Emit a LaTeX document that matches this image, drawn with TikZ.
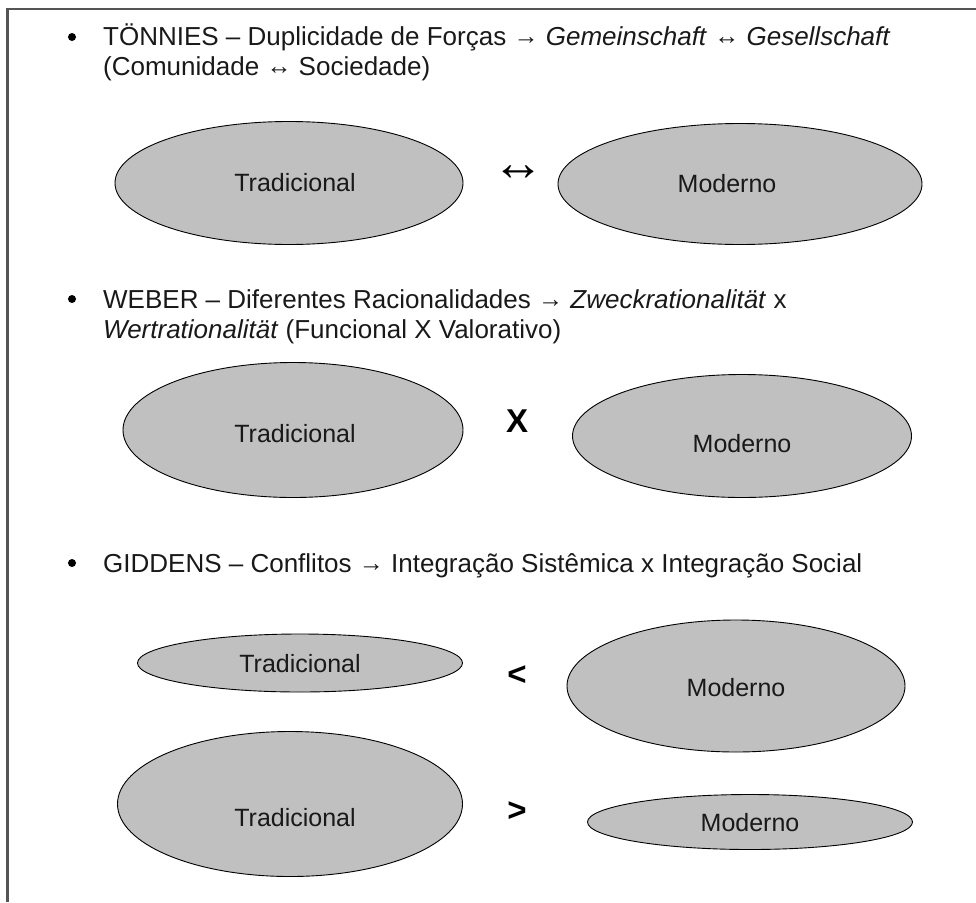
\documentclass[tikz,border=0pt]{standalone}
\usepackage{fontspec}
\setmainfont{Liberation Sans}
\usetikzlibrary{shapes.geometric}
\definecolor{ovalgray}{HTML}{C0C0C0}
\definecolor{framegray}{HTML}{555555}
\newcommand{\smarrow}[1]{{\fontsize{25}{25}\selectfont\raisebox{1pt}{#1}}}
\tikzset{
  oval/.style={ellipse,draw=black,fill=ovalgray,line width=0.9pt,inner sep=0pt},
  lbl/.style={font=\fontsize{25}{25}\selectfont,text=black!90,inner sep=0pt},
  head/.style={font=\fontsize{26}{26}\selectfont,text=black!90,anchor=base west,inner sep=0pt},
  sign/.style={font=\fontsize{33}{33}\selectfont\bfseries,inner sep=0pt},
  dot/.style={circle,fill=black,inner sep=0pt,minimum size=8pt}
}
\begin{document}
\begin{tikzpicture}[x=1pt,y=-1pt]
  \useasboundingbox (0,0) rectangle (976,902);
  % frame
  \draw[framegray,line width=2.2pt] (7.5,902) -- (7.5,9) -- (976,9);

  % Tonnies
  \node[dot] (b1) at (72,37) {};
  \node[head] (h1a) at (103,45) {TÖNNIES – Duplicidade de Forças \smarrow{→} \textit{Gemeinschaft} \smarrow{↔} \textit{Gesellschaft}};
  \node[head] (h1b) at (103,75) {(Comunidade \smarrow{↔} Sociedade)};
  \node[oval,minimum width=348pt,minimum height=123pt] (t1) at (289,183) {};
  \node[lbl] (t1l) at (295,183) {Tradicional};
  \node[oval,minimum width=364pt,minimum height=121pt] (m1) at (740,184) {};
  \node[lbl] (m1l) at (727,184) {Moderno};
  \node[inner sep=0pt,font=\fontsize{52}{52}\selectfont] (s1) at (518,173) {↔};

  % Weber
  \node[dot] (b2) at (72,299) {};
  \node[head] (h2a) at (103,308) {WEBER – Diferentes Racionalidades \smarrow{→} \textit{Zweckrationalität} x};
  \node[head] (h2b) at (103,338) {\textit{Wertrationalität} (Funcional X Valorativo)};
  \node[oval,minimum width=340pt,minimum height=135pt] (t2) at (293,430) {};
  \node[lbl] (t2l) at (295,434) {Tradicional};
  \node[oval,minimum width=339pt,minimum height=123pt] (m2) at (742,436) {};
  \node[lbl] (m2l) at (742,444) {Moderno};
  \node[sign] (s2) at (517,421) {X};

  % Giddens
  \node[dot] (b3) at (72,563) {};
  \node[head] (h3a) at (103,572) {GIDDENS – Conflitos \smarrow{→} Integração Sistêmica x Integração Social};
  \node[oval,minimum width=325pt,minimum height=58pt] (t3) at (300,663) {};
  \node[lbl] (t3l) at (300,664) {Tradicional};
  \node[oval,minimum width=338pt,minimum height=132pt] (m3) at (736,686) {};
  \node[lbl] (m3l) at (736,688) {Moderno};
  \node[sign] (s3) at (517,676) {<};
  \node[oval,minimum width=345pt,minimum height=145pt] (t4) at (290,804) {};
  \node[lbl] (t4l) at (295,818) {Tradicional};
  \node[oval,minimum width=325pt,minimum height=55pt] (m4) at (750,822) {};
  \node[lbl] (m4l) at (750,823) {Moderno};
  \node[sign] (s4) at (517,812) {>};
\end{tikzpicture}
\end{document}
